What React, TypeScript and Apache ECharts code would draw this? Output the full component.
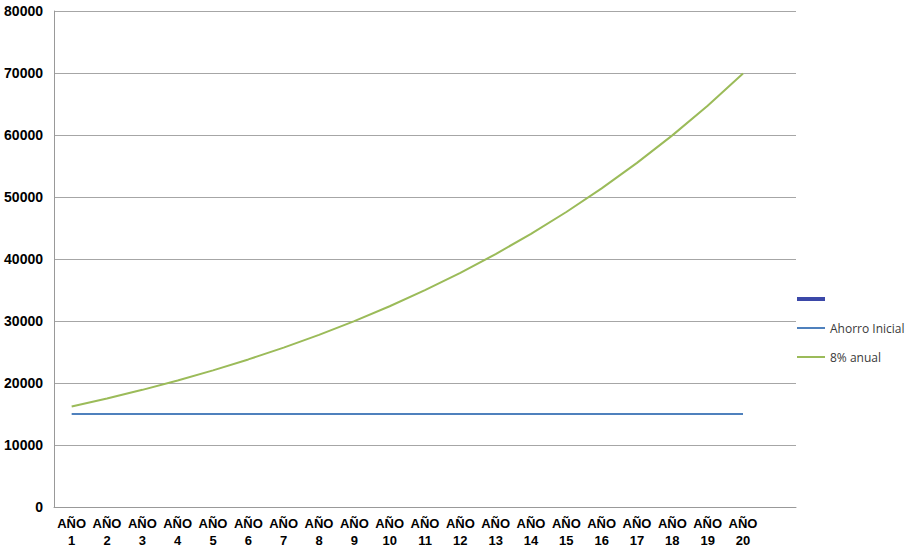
import React, { useEffect, useRef } from "react";
import * as echarts from "echarts";

const categories = [
  "AÑO\n1", "AÑO\n2", "AÑO\n3", "AÑO\n4", "AÑO\n5", "AÑO\n6", "AÑO\n7", "AÑO\n8", "AÑO\n9", "AÑO\n10",
  "AÑO\n11", "AÑO\n12", "AÑO\n13", "AÑO\n14", "AÑO\n15", "AÑO\n16", "AÑO\n17", "AÑO\n18", "AÑO\n19", "AÑO\n20", "",
];
const ahorroInicial = [
  15000, 15000, 15000, 15000, 15000, 15000, 15000, 15000, 15000, 15000,
  15000, 15000, 15000, 15000, 15000, 15000, 15000, 15000, 15000, 15000,
];
const anual8 = [
  16200, 17496, 18896, 20407, 22040, 23803, 25707, 27764, 29985, 32384,
  34974, 37772, 40794, 44058, 47582, 51389, 55500, 59940, 64735, 69914,
];
const seriesNames = ["Ahorro Inicial", "8% anual"];

export default function App() {
  const ref = useRef<HTMLDivElement>(null);
  useEffect(() => {
    const chart = echarts.init(ref.current!, null, { renderer: "svg" });
    chart.setOption({
      animation: false,
      backgroundColor: "#ffffff",
      grid: { left: 54, top: 11, right: 112, bottom: 45, containLabel: false },
      xAxis: {
        type: "category",
        data: categories,
        boundaryGap: true,
        axisLine: { show: true, lineStyle: { color: "#999999", width: 1 } },
        axisTick: { show: false },
        axisLabel: {
          interval: 0,
          color: "#000000",
          fontFamily: "Liberation Sans, Arial, sans-serif",
          fontWeight: "bold",
          fontSize: 13,
          lineHeight: 17,
          margin: 8,
        },
      },
      yAxis: {
        type: "value",
        min: 0,
        max: 80000,
        interval: 10000,
        axisLine: { show: true, lineStyle: { color: "#999999", width: 1 } },
        axisTick: { show: false },
        splitLine: { show: true, lineStyle: { color: "#a6a6a6", width: 1 } },
        axisLabel: {
          color: "#000000",
          fontFamily: "Liberation Sans, Arial, sans-serif",
          fontWeight: "bold",
          fontSize: 14,
          margin: 11,
          formatter: (v: number) => String(v),
        },
      },
      legend: {
        orient: "vertical",
        left: 792,
        top: 315,
        itemWidth: 28,
        itemHeight: 2,
        itemGap: 13,
        icon: "rect",
        data: seriesNames,
        textStyle: {
          color: "#3a3a3a",
          fontFamily: "Open Sans, Liberation Sans, sans-serif",
          fontSize: 12,
          lineHeight: 16,
        },
      },
      graphic: [
        {
          type: "rect",
          left: 797,
          top: 297,
          shape: { width: 28, height: 4 },
          style: { fill: "#3b48a8" },
        },
      ],
      series: [
        {
          name: seriesNames[0],
          type: "line",
          data: ahorroInicial,
          showSymbol: false,
          symbol: "none",
          lineStyle: { color: "#4f81bd", width: 2 },
          itemStyle: { color: "#4f81bd" },
        },
        {
          name: seriesNames[1],
          type: "line",
          data: anual8,
          showSymbol: false,
          symbol: "none",
          lineStyle: { color: "#9bbb59", width: 2 },
          itemStyle: { color: "#9bbb59" },
        },
      ],
    });
    return () => chart.dispose();
  }, []);
  return (
    <div
      ref={ref}
      style={{ position: "fixed", left: 0, top: 0, width: 908, height: 552, background: "#fff" }}
    />
  );
}
